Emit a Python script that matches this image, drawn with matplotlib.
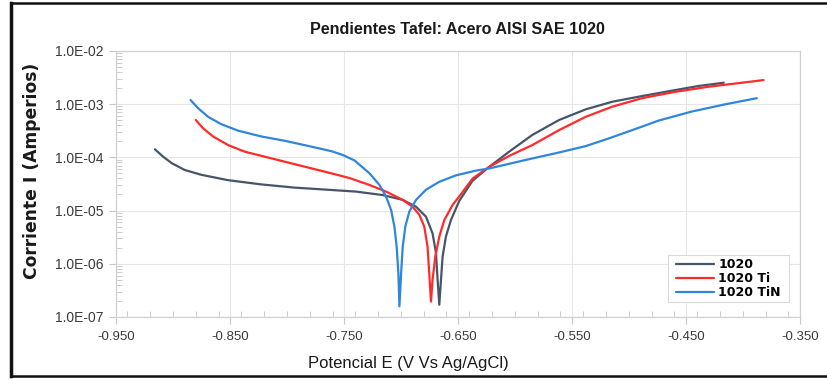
import numpy as np
import matplotlib
matplotlib.use("Agg")
import matplotlib.pyplot as plt
from matplotlib.ticker import FixedLocator, LogLocator, MultipleLocator, NullFormatter
from matplotlib.lines import Line2D
from matplotlib.patches import Rectangle

title = "Pendientes Tafel: Acero AISI SAE 1020"
xlabel = "Potencial E (V Vs Ag/AgCl)"
ylabel = "Corriente I (Amperios)"
series_names = ["1020", "1020 Ti", "1020 TiN"]

x_ticks = [-0.950, -0.850, -0.750, -0.650, -0.550, -0.450, -0.350]
x_tick_labels = ["-0.950", "-0.850", "-0.750", "-0.650", "-0.550", "-0.450", "-0.350"]
y_ticks = [1e-7, 1e-6, 1e-5, 1e-4, 1e-3, 1e-2]
y_tick_labels = ["1.0E-07", "1.0E-06", "1.0E-05", "1.0E-04", "1.0E-03", "1.0E-02"]

# potential (V) and log10 of current (A)
E_1020 = [-0.9159, -0.9086, -0.9012, -0.8896, -0.8750, -0.8517, -0.8224, -0.7933, -0.7641,
          -0.7392, -0.7159, -0.6984, -0.6867, -0.6780, -0.6722, -0.6692, -0.6678, -0.6663,
          -0.6648, -0.6634, -0.6605, -0.6561, -0.6488, -0.6371, -0.6225, -0.6050, -0.5846,
          -0.5612, -0.5378, -0.5145, -0.4883, -0.4590, -0.4386, -0.4167]
logI_1020 = [-3.85, -3.99, -4.11, -4.24, -4.33, -4.43, -4.51, -4.57, -4.61,
             -4.645, -4.71, -4.80, -4.93, -5.115, -5.43, -5.80, -6.30, -6.77,
             -6.30, -5.865, -5.49, -5.18, -4.82, -4.44, -4.18, -3.895, -3.58,
             -3.30, -3.10, -2.957, -2.85, -2.737, -2.66, -2.60]

E_Ti = [-0.8800, -0.8736, -0.8648, -0.8517, -0.8370, -0.8137, -0.7904, -0.7641, -0.7451,
        -0.7276, -0.7130, -0.6984, -0.6897, -0.6838, -0.6795, -0.6766, -0.6751, -0.6736,
        -0.6722, -0.6698, -0.6663, -0.6619, -0.6546, -0.6475, -0.6371, -0.6225, -0.6050,
        -0.5846, -0.5612, -0.5378, -0.5145, -0.4883, -0.4590, -0.4299, -0.4007, -0.3817]
logI_Ti = [-3.30, -3.455, -3.61, -3.77, -3.895, -4.02, -4.145, -4.285, -4.39,
           -4.52, -4.645, -4.80, -4.93, -5.08, -5.30, -5.68, -6.18, -6.71,
           -6.30, -5.865, -5.49, -5.18, -4.895, -4.70, -4.40, -4.18, -3.975,
           -3.77, -3.49, -3.24, -3.05, -2.89, -2.77, -2.675, -2.60, -2.55]

E_TiN = [-0.8846, -0.8779, -0.8692, -0.8575, -0.8429, -0.8224, -0.8020, -0.7786, -0.7611,
         -0.7510, -0.7407, -0.7276, -0.7188, -0.7130, -0.7086, -0.7057, -0.7037, -0.7022,
         -0.7013, -0.6998, -0.6984, -0.6961, -0.6926, -0.6867, -0.6780, -0.6663, -0.6517,
         -0.6341, -0.6225, -0.5904, -0.5612, -0.5378, -0.5174, -0.4970, -0.4737, -0.4445,
         -0.4153, -0.3876]
logI_TiN = [-2.925, -3.08, -3.24, -3.38, -3.50, -3.61, -3.69, -3.80, -3.885,
            -3.957, -4.06, -4.30, -4.52, -4.74, -4.99, -5.30, -5.68, -6.18,
            -6.80, -6.18, -5.68, -5.30, -5.02, -4.80, -4.61, -4.46, -4.34,
            -4.25, -4.21, -4.05, -3.91, -3.79, -3.645, -3.49, -3.31, -3.14,
            -3.005, -2.89]

colors = ["#475569", "#ff2b2b", "#2f86dd"]

fig = plt.figure(figsize=(8.27, 3.79), dpi=100)
ax = fig.add_axes([0.1403, 0.1636, 0.8267, 0.7024])

for E, L, c, name in zip([E_1020, E_Ti, E_TiN], [logI_1020, logI_Ti, logI_TiN], colors, series_names):
    ax.plot(E, np.power(10.0, L), color=c, lw=1.6, label=name,
            solid_joinstyle="round", solid_capstyle="round")

ax.set_yscale("log")
ax.set_xlim(-0.95, -0.35)
ax.set_ylim(1e-7, 1e-2)

ax.xaxis.set_major_locator(FixedLocator(x_ticks))
ax.set_xticklabels(x_tick_labels)
ax.xaxis.set_minor_locator(MultipleLocator(0.02))
ax.yaxis.set_major_locator(FixedLocator(y_ticks))
ax.set_yticklabels(y_tick_labels)
ax.yaxis.set_minor_locator(LogLocator(base=10, subs=np.arange(2, 10), numticks=20))
ax.yaxis.set_minor_formatter(NullFormatter())

grid_c = "#e6e6e6"
ax.grid(True, which="major", color=grid_c, lw=0.8)
for s in ax.spines.values():
    s.set_color("#d0d0d0")
    s.set_linewidth(0.9)

ax.tick_params(axis="both", which="major", colors="#c8c8c8", length=5, width=0.8,
               labelcolor="#3a3a3a", direction="out")
ax.tick_params(axis="both", which="minor", colors="#cccccc", length=4, width=0.7, direction="in")
ax.tick_params(axis="x", which="major", pad=5, labelsize=9.5)
ax.tick_params(axis="y", which="major", pad=4, labelsize=10)
for lab in ax.get_xticklabels() + ax.get_yticklabels():
    lab.set_family("Liberation Sans")

ax.set_title(title, fontsize=11.6, fontweight="bold", family="Liberation Sans", pad=12, color="#1a1a1a")
ax.set_xlabel(xlabel, fontsize=12, family="Liberation Sans", color="#1a1a1a")
ax.xaxis.set_label_coords(0.427, -0.145)
ax.set_ylabel(ylabel, fontsize=12.3, fontweight="bold", family="DejaVu Sans", color="#1a1a1a")
ax.yaxis.set_label_coords(-0.110, 0.549)

# legend box (drawn separately to get its wide, flat padding)
box_x0, box_x1, box_y0, box_y1 = 0.807, 0.985, 0.056, 0.233
ax.add_patch(Rectangle((box_x0, box_y0), box_x1 - box_x0, box_y1 - box_y0, transform=ax.transAxes,
                       facecolor="white", edgecolor="#d9d9d9", lw=0.8, zorder=4))
leg = ax.legend(loc="center", bbox_to_anchor=((box_x0 + box_x1) / 2, (box_y0 + box_y1) / 2),
                borderaxespad=0.0, frameon=False,
                prop=dict(family="DejaVu Sans", weight="bold", size=9),
                handlelength=3.0, handletextpad=0.35, labelspacing=0.08, borderpad=0.0)
leg.set_zorder(5)

# outer border of the picture
for coords, lw in [(([0.013, 0.013], [0.008, 0.993]), 2.5),
                   (([0.013, 0.999], [0.993, 0.993]), 1.8),
                   (([0.013, 0.999], [0.008, 0.008]), 1.8)]:
    fig.add_artist(Line2D(coords[0], coords[1], transform=fig.transFigure, color="#111111", lw=lw))

fig.savefig("out.png", dpi=100)
